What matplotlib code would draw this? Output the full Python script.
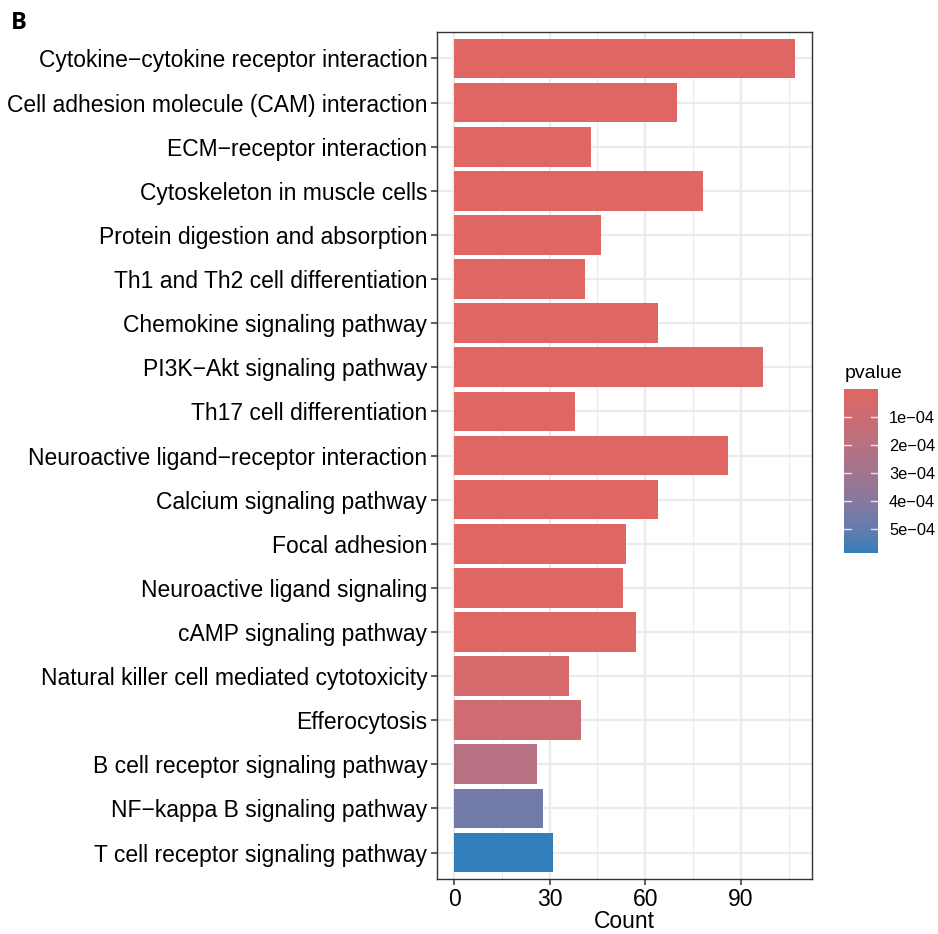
import numpy as np
import matplotlib
matplotlib.use("Agg")
import matplotlib.pyplot as plt
from matplotlib.colors import ListedColormap, Normalize

# KEGG enrichment results, listed top to bottom
pathways = [
    "Cytokine\u2212cytokine receptor interaction",
    "Cell adhesion molecule (CAM) interaction",
    "ECM\u2212receptor interaction",
    "Cytoskeleton in muscle cells",
    "Protein digestion and absorption",
    "Th1 and Th2 cell differentiation",
    "Chemokine signaling pathway",
    "PI3K\u2212Akt signaling pathway",
    "Th17 cell differentiation",
    "Neuroactive ligand\u2212receptor interaction",
    "Calcium signaling pathway",
    "Focal adhesion",
    "Neuroactive ligand signaling",
    "cAMP signaling pathway",
    "Natural killer cell mediated cytotoxicity",
    "Efferocytosis",
    "B cell receptor signaling pathway",
    "NF\u2212kappa B signaling pathway",
    "T cell receptor signaling pathway",
]
counts = [107, 70, 43, 78, 46, 41, 64, 97, 38, 86, 64, 54, 53, 57, 36, 40, 26, 28, 31]
pvalues = [1e-12, 1e-11, 1e-10, 1e-10, 1e-9, 1e-9, 1e-8, 1e-8, 1e-8, 1e-7,
           1e-7, 1e-6, 1e-6, 2e-6, 0.55e-4, 0.95e-4, 2.1e-4, 4.6e-4, 5.84e-4]
legend_ticks = [1e-4, 2e-4, 3e-4, 4e-4, 5e-4]
legend_labels = ["1e\u221204", "2e\u221204", "3e\u221204", "4e\u221204", "5e\u221204"]
x_ticks = [0, 30, 60, 90]

LOW, HIGH = "#e06663", "#327eba"


# --- CIELAB interpolation for the fill gradient ---
def _to_lab(hexcol):
    rgb = np.array(matplotlib.colors.to_rgb(hexcol))
    lin = np.where(rgb <= 0.04045, rgb / 12.92, ((rgb + 0.055) / 1.055) ** 2.4)
    M = np.array([[0.4124, 0.3576, 0.1805],
                  [0.2126, 0.7152, 0.0722],
                  [0.0193, 0.1192, 0.9505]])
    xyz = M @ lin / np.array([0.95047, 1.0, 1.08883])
    d = 6 / 29
    f = np.where(xyz > d ** 3, np.cbrt(xyz), xyz / (3 * d * d) + 4 / 29)
    return np.array([116 * f[1] - 16, 500 * (f[0] - f[1]), 200 * (f[1] - f[2])])


def _from_lab(lab):
    L, a, b = lab
    fy = (L + 16) / 116
    fx = fy + a / 500
    fz = fy - b / 200
    d = 6 / 29
    f = np.array([fx, fy, fz])
    xyz = np.where(f > d, f ** 3, 3 * d * d * (f - 4 / 29)) * np.array([0.95047, 1.0, 1.08883])
    Minv = np.array([[3.2406, -1.5372, -0.4986],
                     [-0.9689, 1.8758, 0.0415],
                     [0.0557, -0.2040, 1.0570]])
    lin = Minv @ xyz
    lin = np.clip(lin, 0, 1)
    rgb = np.where(lin <= 0.0031308, 12.92 * lin, 1.055 * lin ** (1 / 2.4) - 0.055)
    return np.clip(rgb, 0, 1)


lab_lo, lab_hi = _to_lab(LOW), _to_lab(HIGH)
cmap = ListedColormap([_from_lab(lab_lo + t * (lab_hi - lab_lo)) for t in np.linspace(0, 1, 256)])
norm = Normalize(vmin=min(pvalues), vmax=max(pvalues))

FONT = "Liberation Sans"
plt.rcParams["font.family"] = [FONT, "DejaVu Sans"]

W, H = 938, 934
fig = plt.figure(figsize=(W / 100, H / 100), dpi=100)

# main panel
px0, px1, py0, py1 = 437, 812, 32, 879
ax = fig.add_axes([px0 / W, (H - py1) / H, (px1 - px0) / W, (py1 - py0) / H])
n = len(pathways)
ypos = np.arange(n)[::-1]
ax.barh(ypos, counts, height=0.9, color=cmap(norm(np.array(pvalues))), zorder=3)

xmax = max(counts)
ax.set_xlim(-0.05 * xmax, xmax * 1.05)
ax.set_ylim(-0.6, n - 1 + 0.6)
ax.set_xticks(x_ticks)
ax.set_xticks([15, 45, 75, 105], minor=True)
ax.set_yticks(ypos)
ax.set_yticklabels(pathways)
ax.set_xticklabels([str(v) for v in x_ticks])

grid_c = "#ebebeb"
ax.grid(True, which="major", axis="both", color=grid_c, lw=1.6, zorder=0)
ax.grid(True, which="minor", axis="x", color=grid_c, lw=0.8, zorder=0)
ax.set_axisbelow(True)
for s in ax.spines.values():
    s.set_color("#333333")
    s.set_linewidth(1.0)
ax.tick_params(axis="both", which="major", length=4, width=1.1, color="#333333",
               labelsize=16.5, labelcolor="black")
ax.tick_params(axis="y", pad=3)
ax.tick_params(axis="x", pad=2.5)
ax.tick_params(which="minor", length=0)
ax.set_xlabel("Count", fontsize=16.5, labelpad=-1)

# colour legend (low p at the top)
cx0, cx1, cy0, cy1 = 844, 878, 389, 553
cax = fig.add_axes([cx0 / W, (H - cy1) / H, (cx1 - cx0) / W, (cy1 - cy0) / H])
grad = np.linspace(norm.vmin, norm.vmax, 300).reshape(-1, 1)
cax.imshow(grad, cmap=cmap, norm=norm, aspect="auto",
           extent=[0, 1, norm.vmax, norm.vmin], origin="upper")
cax.set_xlim(0, 1)
cax.set_ylim(norm.vmax, norm.vmin)
for t in legend_ticks:
    cax.plot([0, 0.2], [t, t], color="white", lw=1, alpha=0.8)
    cax.plot([0.8, 1], [t, t], color="white", lw=1, alpha=0.8)
cax.set_xticks([])
cax.yaxis.tick_right()
cax.set_yticks(legend_ticks)
cax.set_yticklabels(legend_labels)
cax.tick_params(axis="y", length=0, pad=8, labelsize=11.8)
for s in cax.spines.values():
    s.set_visible(False)
fig.text(845 / W, 1 - 378 / H, "pvalue", fontsize=14, ha="left", va="baseline")

# panel tag
fig.text(11 / W, 1 - 29 / H, "B", fontsize=17, fontweight="bold",
         family=["Open Sans", "DejaVu Sans"], ha="left", va="baseline")

fig.savefig("out.png", dpi=100)
